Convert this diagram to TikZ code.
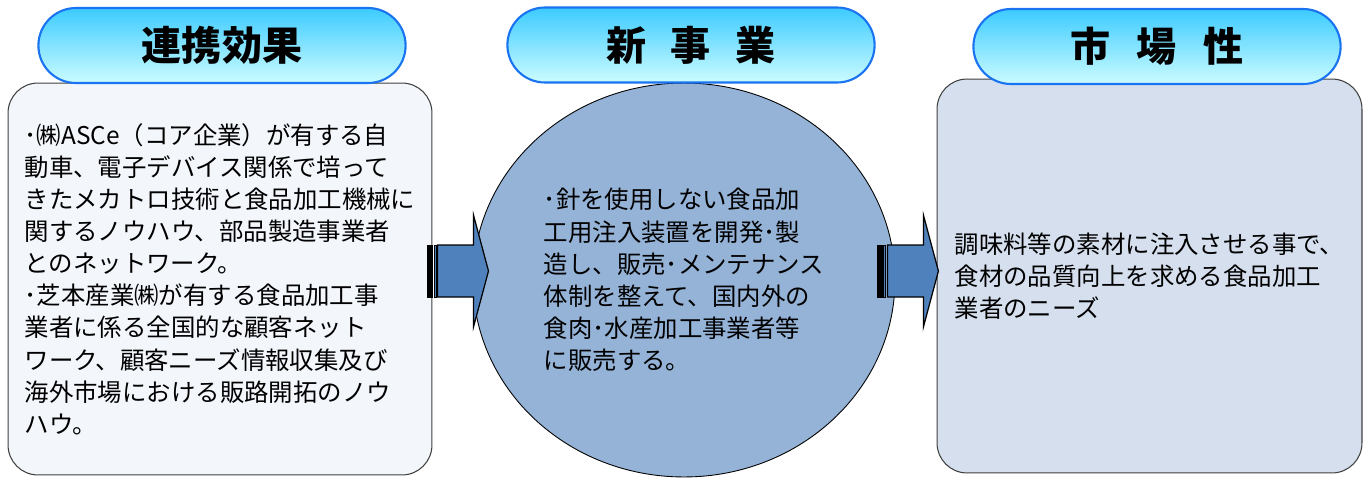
\documentclass[tikz,border=0pt]{standalone}
\usepackage{fontspec}
\newfontfamily\jp{Noto Sans CJK JP}
\usepackage{tikz}
\usetikzlibrary{positioning}
\usetikzlibrary{shapes.misc}
\usetikzlibrary{shapes.geometric}
\usetikzlibrary{calc}

\definecolor{hdrline}{HTML}{1A73F0}
\definecolor{hdrtop}{HTML}{3CCBFF}
\definecolor{hdrbot}{HTML}{CCFCFF}
\definecolor{leftfill}{HTML}{F3F6FB}
\definecolor{rightfill}{HTML}{D5DFEE}
\definecolor{circfill}{HTML}{95B3D7}
\definecolor{arrfill}{HTML}{4F81BD}

\begin{document}
\begin{tikzpicture}[x=0.02cm, y=-0.02cm,
    hdr/.style={rounded rectangle, draw=hdrline, line width=1.2pt, top color=hdrtop, bottom color=hdrbot,
        minimum width=7.58cm, minimum height=1.5cm, font=\jp\bfseries\fontsize{22.8}{24}\selectfont},
    body/.style={font=\jp\fontsize{13.9}{18.3}\selectfont, align=left, inner sep=0pt}]

\useasboundingbox (0,0) rectangle (1371,477);

% Boxes below the headers
\node[body, rectangle, rounded corners=0.6cm, draw=black!75, line width=0.6pt, fill=leftfill,
    minimum width=8.48cm, minimum height=7.84cm] (link) at (220,279)
    {･㈱ASCe（コア企業）が有する自\\
     動車、電子デバイス関係で培って\\
     きたメカトロ技術と食品加工機械に\\
     関するノウハウ、部品製造事業者\\
     とのネットワーク。\\
     ･芝本産業㈱が有する食品加工事\\
     業者に係る全国的な顧客ネット\\
     ワーク、顧客ニーズ情報収集及び\\
     海外市場における販路開拓のノウ\\
     ハウ。};

\node[body, ellipse, draw=black, line width=0.5pt, fill=circfill,
    minimum width=8.44cm, minimum height=7.88cm] (newbiz) at (684,280)
    {･針を使用しない食品加\\
     工用注入装置を開発･製\\
     造し、販売･メンテナンス\\
     体制を整えて、国内外の\\
     食肉･水産加工事業者等\\
     に販売する。};

\node[body, rectangle, rounded corners=0.6cm, draw=black!75, line width=0.6pt, fill=rightfill,
    minimum width=8.5cm, minimum height=7.88cm] (market) at (1149.5,276)
    {調味料等の素材に注入させる事で、\\
     食材の品質向上を求める食品加工\\
     業者のニーズ};

% Headers
\node[hdr] (linkhead) at (222,45.5) {連携効果};
\node[hdr] (newbizhead) at (691,45) {新\hspace{0.62em}事\hspace{0.62em}業};
\node[hdr] (markethead) at (1157,46.5) {市\hspace{0.65em}場\hspace{0.65em}性};

% Striped arrows between the boxes
\coordinate (arr1) at ($(link.east)+(-5,-8)$);
\coordinate (arr2) at ($(newbiz.east)+(-18,-9)$);
\foreach \a in {arr1,arr2} {
    \filldraw[fill=black, line width=0.5pt] (\a) ++(0,-26) rectangle ++(5,52);
    \filldraw[fill=arrfill, line width=0.5pt] (\a) ++(6.5,-26) rectangle ++(2,52);
    \filldraw[fill=arrfill, line width=0.7pt] (\a) ++(10,-26) -- ++(36,0) -- ++(0,-30) -- ++(15,56)
        -- ++(-15,56) -- ++(0,-30) -- ++(-36,0) -- cycle;
}

\end{tikzpicture}
\end{document}
